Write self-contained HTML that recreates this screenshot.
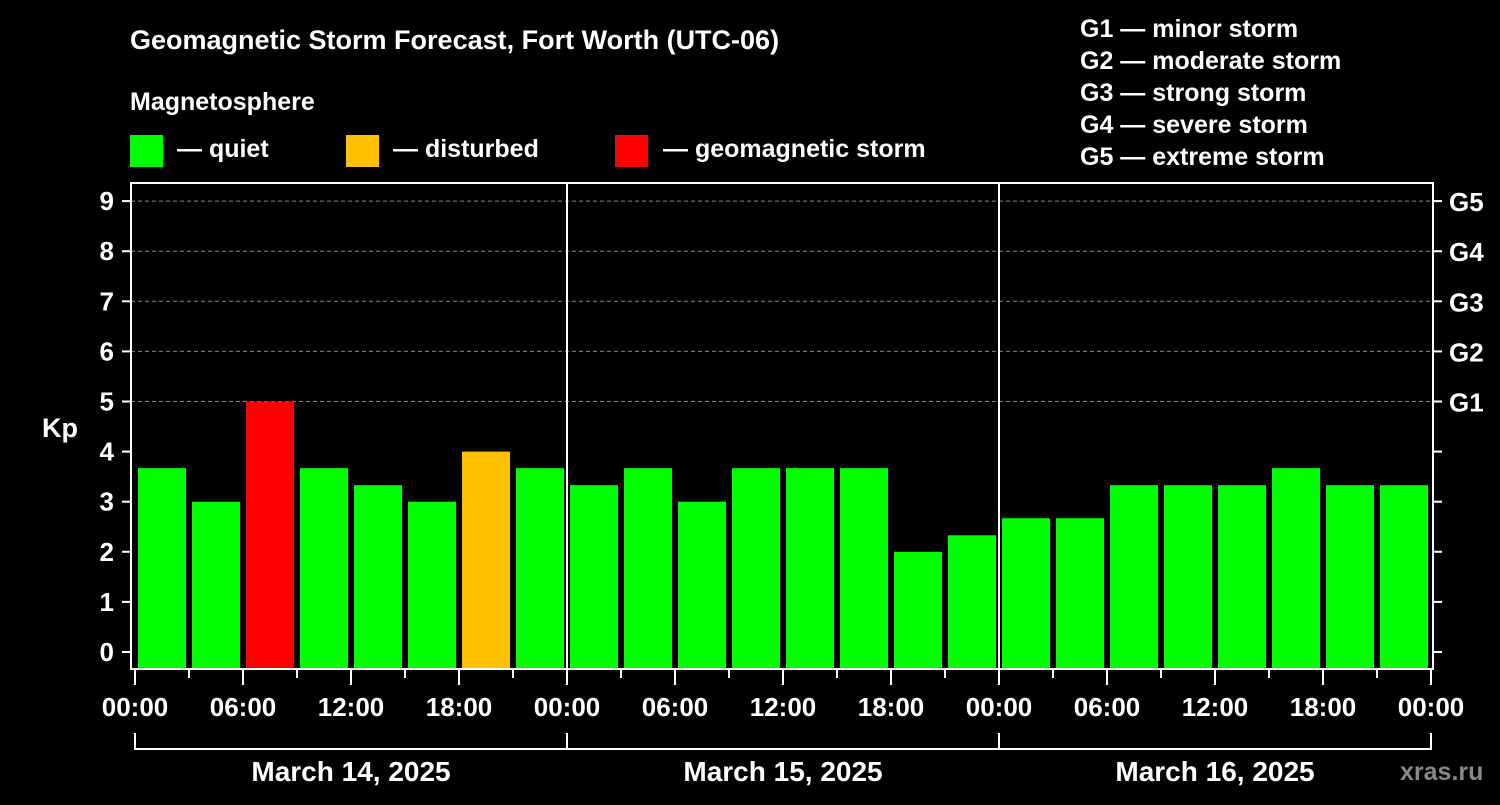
<!DOCTYPE html>
<html><head><meta charset="utf-8"><style>
body{margin:0;background:#000;width:1500px;height:800px;overflow:hidden}
svg{font-family:"Liberation Sans",Arial,sans-serif;font-weight:bold}
</style></head><body>
<svg id="c" width="1500" height="800">
<text x="130" y="49" fill="#fff" font-size="27">Geomagnetic Storm Forecast, Fort Worth (UTC-06)</text>
<text x="130" y="110" fill="#fff" font-size="25">Magnetosphere</text>
<g><rect x="130" y="135" width="33" height="32" fill="#00ff00"/><text x="177" y="157" fill="#fff" font-size="25">— quiet</text></g>
<g><rect x="346" y="135" width="33" height="32" fill="#ffc000"/><text x="393" y="157" fill="#fff" font-size="25">— disturbed</text></g>
<g><rect x="615" y="135" width="33" height="32" fill="#ff0000"/><text x="663" y="157" fill="#fff" font-size="25">— geomagnetic storm</text></g>
<g fill="#fff" font-size="25">
<text x="1080" y="37">G1 — minor storm</text><text x="1080" y="69">G2 — moderate storm</text><text x="1080" y="101">G3 — strong storm</text><text x="1080" y="133">G4 — severe storm</text><text x="1080" y="165">G5 — extreme storm</text></g>
<text x="42" y="437" fill="#fff" font-size="27">Kp</text>
<text x="1400" y="780" fill="#888" font-size="25">xras.ru</text>
<g id="g"></g>
</svg>
<script>
const days=["March 14, 2025","March 15, 2025","March 16, 2025"];
const kp=[3.67,3,5,3.67,3.33,3,4,3.67, 3.33,3.67,3,3.67,3.67,3.67,2,2.33, 2.67,2.67,3.33,3.33,3.33,3.67,3.33,3.33];
const yTicks=[0,1,2,3,4,5,6,7,8,9];
const gLabels=["G1","G2","G3","G4","G5"];
const xLabels=["00:00","06:00","12:00","18:00"];
const NS="http://www.w3.org/2000/svg",G=document.getElementById('g');
const L=131,R=1433,T=183,B=669,X0=135,DAY=432;
const y=v=>652-v*50.1, x=h=>X0+h*DAY/24;
function mk(t,a,txt){const e=document.createElementNS(NS,t);for(const k in a)e.setAttribute(k,a[k]);if(txt!=null)e.textContent=txt;G.appendChild(e);return e;}
yTicks.forEach(v=>{
 if(v>=5){const e=mk('line',{x1:L,x2:R,y1:y(v),y2:y(v),stroke:'#888','stroke-dasharray':'4,3'});
 
 }
 mk('line',{x1:122,x2:L,y1:y(v),y2:y(v),stroke:'#fff','stroke-width':2});
 mk('line',{x1:R,x2:1442,y1:y(v),y2:y(v),stroke:'#fff','stroke-width':2});
 const t=mk('text',{x:114,y:y(v)+9,fill:'#fff','font-size':26,'text-anchor':'end'},v);
 
 
});
gLabels.forEach((g,i)=>{const t=mk('text',{x:1449,y:y(5+i)+10,fill:'#fff','font-size':26},g);
 
 });
kp.forEach((v,i)=>{
 const c=v>=5?'#ff0000':v>=4?'#ffc000':'#00ff00';
 const r=mk('rect',{x:x(i*3)+3,y:y(v),width:48,height:B-y(v),fill:c});
 
 
});
mk('rect',{x:L,y:T,width:R-L,height:B-T,fill:'none',stroke:'#fff','stroke-width':2});
[1,2].forEach(d=>mk('line',{x1:x(d*24),x2:x(d*24),y1:T,y2:B,stroke:'#fff','stroke-width':2}));
for(let h=0;h<=72;h+=3){const maj=h%6==0;mk('line',{x1:x(h),x2:x(h),y1:B,y2:maj?685:678,stroke:'#fff','stroke-width':2});
 if(maj){const t=mk('text',{x:x(h),y:716,fill:'#fff','font-size':26,'text-anchor':'middle'},xLabels[(h/6)%4]);
 
 }}
mk('line',{x1:x(0),x2:x(72),y1:749,y2:749,stroke:'#fff','stroke-width':2});
for(let d=0;d<=3;d++)mk('line',{x1:x(d*24),x2:x(d*24),y1:733,y2:750,stroke:'#fff','stroke-width':2});
days.forEach((d,i)=>{const t=mk('text',{x:x(i*24+12),y:781,fill:'#fff','font-size':28,'text-anchor':'middle'},d);
 
 });
</script>
</body></html>
